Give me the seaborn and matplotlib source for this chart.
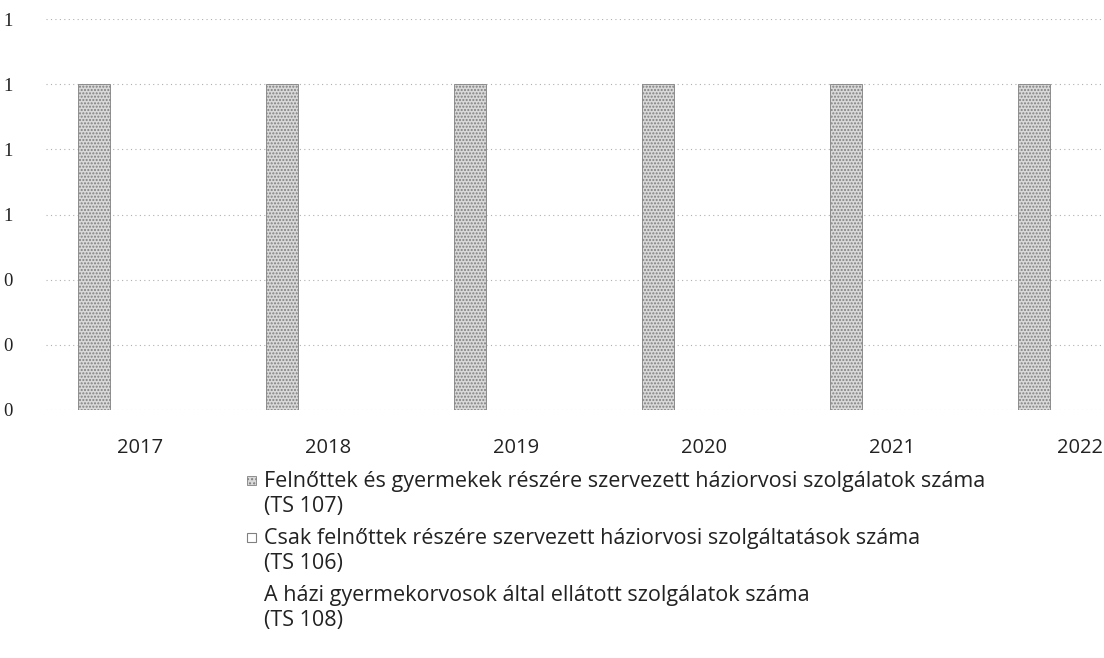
import pandas as pd
import matplotlib.pyplot as plt
import seaborn as sns
import matplotlib.patches as mpatches
import matplotlib.ticker as mticker
from matplotlib.legend_handler import HandlerPatch

# Data
years = ['2017', '2018', '2019', '2020', '2021', '2022']
ts107 = [1, 1, 1, 1, 1, 1]
ts106 = [0, 0, 0, 0, 0, 0]
ts108 = [0, 0, 0, 0, 0, 0]
series_labels = [
    'Felnőttek és gyermekek részére szervezett háziorvosi szolgálatok száma\n(TS 107)',
    'Csak felnőttek részére szervezett háziorvosi szolgáltatások száma\n(TS 106)',
    'A házi gyermekorvosok által ellátott szolgálatok száma\n(TS 108)',
]

df = pd.concat([
    pd.DataFrame({'year': years, 'value': vals, 'series': lab})
    for vals, lab in zip([ts107, ts106, ts108], series_labels)
])

sns.set_theme(style="white")
plt.rcParams['font.family'] = ['Open Sans', 'DejaVu Sans']
plt.rcParams['hatch.color'] = '#808080'

fig = plt.figure(figsize=(11.04, 6.58), dpi=100)
ax = fig.add_axes([46 / 1104, 0.377, 1128 / 1104, 0.594])

sns.barplot(data=df, x='year', y='value', hue='series', hue_order=series_labels,
            palette=['#d9d9d9', '#ffffff', '#ffffff'], width=0.735, gap=0.3,
            legend=False, ax=ax)

# stippled look on the visible series
for bar in ax.containers[0]:
    bar.set_hatch('.....')
    bar.set_edgecolor('#808080')
    bar.set_linewidth(0.6)

ax.set_ylim(0, 1.2)
ax.set_xlim(-0.5, 5.5)
ax.yaxis.set_major_locator(mticker.MultipleLocator(0.2))
ax.yaxis.set_major_formatter(mticker.FormatStrFormatter('%.0f'))
ax.grid(axis='y', linestyle=(0, (1, 3)), color='#b0b0b0', linewidth=0.8)
ax.set_axisbelow(True)
for s in ax.spines.values():
    s.set_visible(False)
ax.set_xlabel('')
ax.set_ylabel('')
ax.tick_params(axis='y', length=0, pad=24, labelsize=13.5)
ax.tick_params(axis='x', length=0, pad=20, labelsize=14.5)
for t in ax.get_yticklabels():
    t.set_fontfamily('Liberation Serif')
    t.set_color('#222222')
for t in ax.get_xticklabels():
    t.set_color('#222222')


# legend squares sit next to the first line of each two-line label
def top_square(legend, orig_handle, xdescent, ydescent, width, height, fontsize):
    side = 6.5
    return mpatches.Rectangle((-xdescent, -ydescent + height / 2 - side / 2 + 9.7), side, side)


h1 = mpatches.Patch(facecolor='#d9d9d9', edgecolor='#808080', hatch='....', linewidth=0.6)
h2 = mpatches.Patch(facecolor='white', edgecolor='#808080', linewidth=0.8)
h3 = mpatches.Patch(facecolor='white', edgecolor='none')
leg = fig.legend(handles=[h1, h2, h3], labels=series_labels,
                 loc='upper left', bbox_to_anchor=(247 / 1104, 1 - 471 / 658),
                 frameon=False, fontsize=15.5, handlelength=0.5, handleheight=0.6,
                 handletextpad=0.3, labelspacing=0.5, borderaxespad=0, borderpad=0,
                 handler_map={mpatches.Patch: HandlerPatch(patch_func=top_square)})
for t in leg.get_texts():
    t.set_color('#222222')
    t.set_linespacing(1.25)

fig.savefig('out.png', dpi=100)
